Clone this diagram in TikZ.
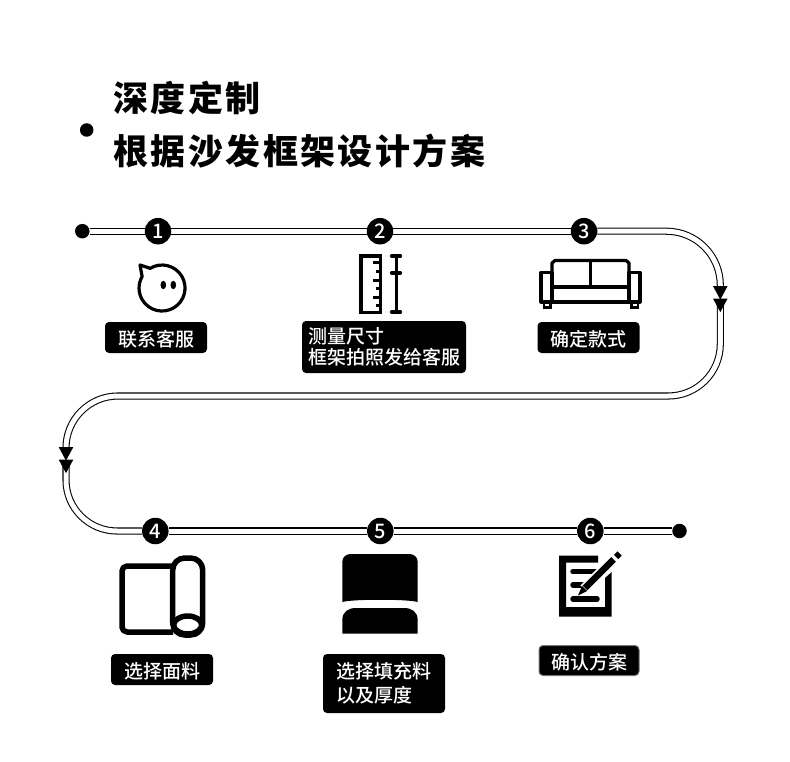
\documentclass[tikz,border=0pt]{standalone}
\usepackage{fontspec}
\setmainfont{Noto Sans CJK SC Medium}
\newfontfamily\titlefont{Noto Sans CJK SC}[LetterSpace=7]
\usetikzlibrary{arrows.meta,positioning,shapes.geometric,calc,backgrounds}

\begin{document}
\begin{tikzpicture}[
  x=1pt, y=-1pt,
  title/.style={
    anchor=west, align=left, inner sep=0pt,
    font=\fontsize{35}{53}\selectfont\titlefont\bfseries},
  dot/.style={circle, fill=black, inner sep=0pt, minimum size=14.5pt},
  num/.style={
    circle, fill=black, text=white, inner sep=0pt, minimum size=26.5pt,
    font=\fontsize{20}{20}\selectfont},
  tag/.style={
    fill=black, text=white, rounded corners=4pt, align=left, inner sep=0pt,
    minimum width=102pt, minimum height=31pt,
    font=\fontsize{19}{21.5}\selectfont,
    execute at begin node={\rule{0pt}{19.5pt}}},
  tip/.style={
    isosceles triangle, isosceles triangle stretches, shape border rotate=-90,
    fill=black, inner sep=0pt, minimum width=14.5pt, minimum height=13.5pt},
  track/.style={line width=1.05pt, double=white, double distance=5pt},
  icon/.style={line width=3.2pt, line join=round, line cap=round},
  thick icon/.style={line width=5.5pt, line join=round}
]
\useasboundingbox (0,0) rectangle (790,762);

\node[title] (titlea) at (113,98) {深度定制};
\node[title] (titleb) at (113,151) {根据沙发框架设计方案};
\node[dot, minimum size=13.5pt] (bullet) at (86.7,130) {};

\node[dot] (begin) at (82.3,231.2) {};
\node[dot] (end) at (679.5,531) {};
\foreach \n/\x/\y in {1/158/231.2, 2/380/231.2, 3/584/231.2, 4/155.3/531, 5/380.3/531, 6/590.3/531}
  \node[num] (n\n) at (\x,\y) {\n};

\node[tip] (tipa) at (720.3,290.5) {};
\node[tip] (tipb) at (720.3,303) {};
\node[tip] (tipc) at (66,451.5) {};
\node[tip] (tipd) at (66,464) {};
\coordinate (bend) at (66,396);

\begin{scope}[on background layer]
\foreach \a/\b in {begin/n1, n1/n2, n2/n3, n4/n5, n5/n6, n6/end}
  \draw[track] (\a) -- (\b);
\draw[track, rounded corners=54pt] (n3) -| (tipa.center);
\draw[track, rounded corners=52pt] (tipb.center) |- (bend) -- (tipc.center);
\draw[track, rounded corners=51pt] (tipd.center) |- (n4);
\end{scope}

\node[tag] (talk) at (156,337.5) {联系客服};
\node[tag, minimum width=164pt, minimum height=52pt] (measure) at (384,347) {测量尺寸\\框架拍照发给客服};
\node[tag] (style) at (588.5,337.5) {确定款式};
\node[tag] (cloth) at (162,669.5) {选择面料};
\node[tag, minimum width=122pt, minimum height=59pt] (filling) at (384,683.5) {选择填充料\\[2.5pt]以及厚度};
\node[tag, draw=black!55, line width=1pt, minimum width=100pt, minimum height=30pt] (confirm) at (589,660.5) {确认方案};

% face
\draw[icon] (150.2,268.3) arc[start angle=239, end angle=570, radius=23] -- (140,265) -- cycle;
\fill (163.3,285) ellipse[x radius=2.8, y radius=4.2];
\fill (173.3,285) ellipse[x radius=2.8, y radius=4.2];

% ruler
\draw[line width=3.4pt] (361,256) rectangle (380.5,312.5);
\foreach \y/\x in {263/373, 271.5/376, 280/373, 288.5/376, 297/373, 305/376}
  \draw[line width=3pt] (380.5,\y) -- (\x,\y);
\draw[line width=3pt] (396,256) -- (396,312);
\foreach \y in {256, 273, 312}
  \draw[icon] (391.5,\y) -- (400.5,\y);

% sofa
\draw[icon] (552,272) -- (552,263) -- (555,260.5) -- (626,260.5) -- (629,263) -- (629,272);
\draw[icon] (590.5,260.5) -- (590.5,287);
\draw[icon] (552,287) -- (629,287);
\draw[icon] (552,272.5) -- (541,272.5) -- (541,302) -- (640,302) -- (640,272.5) -- (629,272.5);
\draw[icon] (552,272.5) -- (552,302);
\draw[icon] (629,272.5) -- (629,302);
\draw[line width=2.6pt] (544,302) rectangle (550.5,307.5);
\draw[line width=2.6pt] (631.5,302) rectangle (638,307.5);

% fabric roll
\draw[thick icon, rounded corners=5pt] (173,566) -- (122,566) -- (122,632) -- (173,632);
\draw[thick icon, rounded corners=12pt] (172.7,558) rectangle (202.7,635);
\draw[thick icon] (187.7,625) ellipse[x radius=14, y radius=9];

% cushion
\fill (342.3,602) -- (342.3,562) .. controls (342.3,557) and (346,554) .. (351,554)
  -- (409,554) .. controls (414,554) and (417.7,557) .. (417.7,562)
  -- (417.7,602) .. controls (408,599) and (352,599) .. cycle;
\fill (342.3,633.5) -- (342.3,620) .. controls (342.3,612) and (348,608) .. (356,608)
  -- (404,608) .. controls (412,608) and (417.7,612) .. (417.7,620)
  -- (417.7,633.5) -- cycle;

% form and pen
\fill (559,555.7) -- (598,555.7) -- (598,562.7) -- (566,562.7) -- (566,607) -- (605,607)
  -- (605,578) -- (611.7,572) -- (611.7,616.7) -- (559,616.7) -- cycle;
\foreach \y/\x in {571.7/597, 585/590, 599/597}
  \draw[line width=5.5pt, line cap=round] (573,\y) -- (\x,\y);
\draw[white, line width=10pt] (584,589) -- (614,559);
\draw[line width=6.5pt] (585,588) -- (613.5,559.5);
\draw[line width=6pt] (616,557) -- (619.5,553.5);
\fill (578,595.5) -- (582,586) -- (587,591) -- cycle;
\end{tikzpicture}
\end{document}
